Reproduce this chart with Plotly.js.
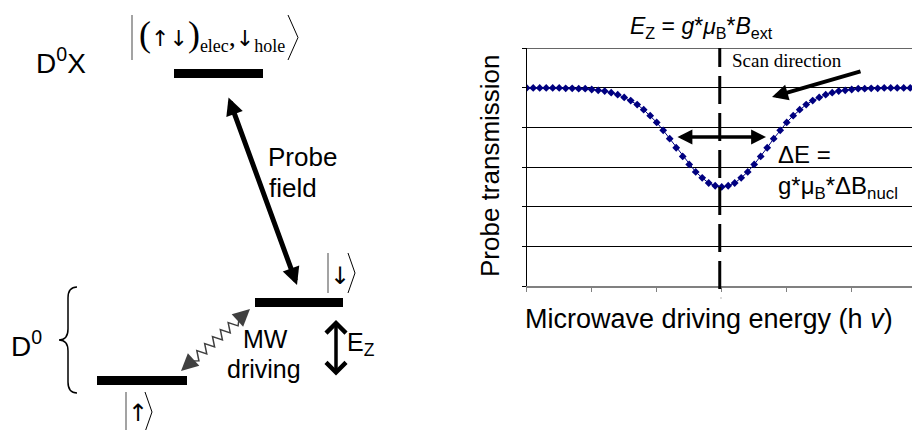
<!DOCTYPE html>
<html><head><meta charset="utf-8">
<script src="https://cdn.plot.ly/plotly-3.0.1.min.js"></script>
<style>html,body{margin:0;padding:0;background:#fff}</style>
</head><body><div id="chart" style="width:912px;height:430px"></div>
<script>
// ---- chart data ----
const energyX = [0.0,0.1,0.2,0.3,0.4,0.5,0.6,0.7,0.8,0.9,1.0,1.1,1.2,1.3,1.4,1.5,1.6,1.7,1.8,1.9,2.0,2.1,2.2,2.3,2.4,2.5,2.6,2.7,2.8,2.9,3.0,3.1,3.2,3.3,3.4,3.5,3.6,3.7,3.8,3.9,4.0,4.1,4.2,4.3,4.4,4.5,4.6,4.7,4.8,4.9,5.0,5.1,5.2,5.3,5.4,5.5,5.6,5.7,5.8,5.9,6.0];
const transmission = [5.00,5.00,5.00,5.00,5.00,5.00,4.99,4.99,4.98,4.98,4.96,4.94,4.92,4.88,4.83,4.76,4.68,4.58,4.45,4.30,4.13,3.93,3.72,3.49,3.27,3.07,2.88,2.73,2.60,2.53,2.50,2.53,2.60,2.73,2.88,3.07,3.27,3.49,3.72,3.93,4.13,4.30,4.45,4.58,4.68,4.76,4.83,4.88,4.92,4.94,4.96,4.98,4.98,4.99,4.99,5.00,5.00,5.00,5.00,5.00,5.00];
const xTicks = [0,1,2,3,4,5,6];
const yTicks = [0,1,2,3,4,5,6];
const resonanceX = 2.97;

const SANS = '"Liberation Sans", Arial, sans-serif';
const SERIF = '"Liberation Serif", "Times New Roman", serif';

// ---- helpers for the level diagram (pixel-like coords on hidden axes x2/y2) ----
function txt(x, baseline, text, fs, o) {
  o = o || {};
  return {xref:'x2', yref:'y2', x:x, y:baseline + 0.21*fs + (o.dy||0), yanchor:'bottom',
    xanchor:o.anchor||'left', text:text, showarrow:false, borderpad:0, borderwidth:0,
    textangle:o.angle||0,
    font:{family:o.family||SANS, size:fs, color:o.color||'#000'}};
}
function arrow(x0, y0, x1, y1, w, head, size, both, color) {
  return {xref:'x2', yref:'y2', axref:'x2', ayref:'y2', x:x1, y:y1, ax:x0, ay:y0, text:'',
    showarrow:true, arrowhead:head, startarrowhead:head, arrowsize:size, startarrowsize:size,
    arrowwidth:w, arrowcolor:color||'#000', arrowside: both ? 'end+start' : 'end',
    standoff:0, startstandoff:0};
}
function bar(x0, x1, y0, y1) {
  return {type:'rect', xref:'x2', yref:'y2', x0:x0, x1:x1, y0:y0, y1:y1, fillcolor:'#000', line:{width:0}};
}
function seg(x0, y0, x1, y1, w, color) {
  return {type:'line', xref:'x2', yref:'y2', x0:x0, y0:y0, x1:x1, y1:y1, line:{color:color||'#000', width:w}};
}
function ketBracket(x, yTop, yBot, w) {
  const ym = (yTop + yBot) / 2;
  return {type:'path', xref:'x2', yref:'y2', path:`M${x},${yTop} L${x+w},${ym} L${x},${yBot}`, line:{color:'#000', width:1}};
}
function zigzag(x0, y0, x1, y1, n, amp) {
  const dx = x1-x0, dy = y1-y0, L = Math.hypot(dx, dy);
  const px = -dy/L, py = dx/L;
  let p = `M${x0},${y0}`;
  for (let i = 1; i < n; i++) {
    const t = i/n, s = (i % 2 ? amp : -amp);
    p += ` L${(x0+dx*t+px*s).toFixed(2)},${(y0+dy*t+py*s).toFixed(2)}`;
  }
  return p + ` L${x1},${y1}`;
}
const A = (s, size) => `<span style="font-family:DejaVu Sans;font-size:${size}px">${s}</span>`;
const S = (s, size) => `<span style="font-size:${size}px">${s}</span>`;

const shapes = [
  // energy levels
  bar(174, 263, 69, 78),
  bar(255, 343, 298, 307),
  bar(97, 187, 376, 385),
  // brace
  {type:'path', xref:'x2', yref:'y2', line:{color:'#000', width:1.5},
   path:'M77,287 Q68,287 68,298 L68,329 Q68,340 59,340 Q68,340 68,351 L68,382 Q68,393 77,393'},
  // kets
  seg(132, 15, 132, 60, 1.2, '#666'), ketBracket(288, 15, 60, 10),
  seg(328, 253, 328, 293, 1.2, '#666'), ketBracket(348, 253, 293, 7),
  seg(126, 392, 126, 432, 1.2, '#666'), ketBracket(145, 392, 432, 7),
  // MW wavy line
  {type:'path', xref:'x2', yref:'y2', line:{color:'#404040', width:1.5},
   path: zigzag(192, 361, 239, 319, 12, 4.5)},
  // chart: top frame line, resonance dashed line, small mark under centre tick
  {type:'line', xref:'x domain', yref:'y', x0:0, x1:1, y0:6, y1:6, line:{color:'#000', width:1}},
  {type:'line', xref:'x', yref:'paper', x0:resonanceX, x1:resonanceX, y0:1-289/430, y1:1-48/430,
   line:{color:'#000', width:3, dash:'28px,9px'}},
  seg(720, 298, 722, 298, 1, '#bbb')
];

const annotations = [
  txt(36, 73, 'D<sup>0</sup>X', 28),
  txt(11, 356, 'D<sup>0</sup>', 28),
  txt(139, 50, S('(', 36) + A('↑↓', 22) + S(')', 36) + '<sub>' + S('elec', 18) + '</sub>,' + A('↓', 22) + '<sub>' + S('hole', 18) + '</sub>', 28, {family:SERIF}),
  txt(339.5, 285, A('↓', 24), 24, {anchor:'center'}),
  txt(137.5, 422, A('↑', 24), 24, {anchor:'center'}),
  txt(268, 167, 'Probe', 26),
  txt(269, 198, 'field', 26),
  txt(265, 348, 'MW', 25, {anchor:'center'}),
  txt(264, 378, 'driving', 25, {anchor:'center'}),
  txt(347, 355, 'E<sub>Z</sub>', 25),
  // arrows of the diagram
  arrow(228, 96, 297, 285, 5, 2, 0.7, true),
  arrow(336, 377, 336, 320, 3.5, 4, 1.1, true),
  arrow(239, 319, 250, 309, 2, 2, 1.7, false, '#404040'),
  arrow(192, 361, 181, 371, 2, 2, 1.7, false, '#404040'),
  // chart texts
  txt(701, 37, '<i>E</i><sub>Z</sub> = <i>g</i>*<i>μ</i><sub>B</sub>*<i>B</i><sub>ext</sub>', 23, {anchor:'center'}),
  txt(732, 67, 'Scan direction', 19, {family:SERIF}),
  txt(778, 163, 'ΔE =', 24),
  txt(778, 198, 'g*μ<sub>B</sub>*ΔB<sub>nucl</sub>', 24),
  txt(709, 328, 'Microwave driving energy (h <i>v</i>)', 27, {anchor:'center'}),
  {xref:'x2', yref:'y2', x:490, y:166, xanchor:'center', yanchor:'middle', textangle:-90, showarrow:false,
   text:'Probe transmission', font:{family:SANS, size:26, color:'#000'}},
  arrow(862, 71, 772, 97, 4, 2, 0.8, false),
  arrow(676, 137, 766, 137, 3.5, 2, 0.85, true)
];

const traces = [
  {x: energyX, y: transmission, type:'scatter', mode:'lines+markers', xaxis:'x', yaxis:'y',
   line:{color:'#000080', width:1}, marker:{symbol:'diamond', size:6, color:'#000080'},
   hoverinfo:'x+y', showlegend:false},
  {x:[], y:[], type:'scatter', xaxis:'x2', yaxis:'y2', showlegend:false, hoverinfo:'skip'}
];

const layout = {
  width:912, height:430, margin:{l:0, r:0, t:0, b:0},
  paper_bgcolor:'#fff', plot_bgcolor:'rgba(0,0,0,0)', showlegend:false,
  xaxis:{domain:[526.7/912, 1], range:[0, (912-526.7)/65], tickvals:xTicks, showticklabels:false,
    ticks:'outside', ticklen:4, tickcolor:'#808080', tickwidth:1, showgrid:false, zeroline:false,
    showline:true, linecolor:'#808080', linewidth:2, fixedrange:true, anchor:'y'},
  yaxis:{domain:[1-286/430, 1-48.3/430], range:[0, 6], tickvals:yTicks, showticklabels:false,
    ticks:'outside', ticklen:4, tickcolor:'#000', showgrid:true, gridcolor:'#000', gridwidth:1,
    zeroline:false, showline:true, linecolor:'#000', linewidth:1, fixedrange:true, anchor:'x'},
  xaxis2:{domain:[0,1], range:[0,912], visible:false, fixedrange:true, anchor:'y2'},
  yaxis2:{domain:[0,1], range:[430,0], visible:false, fixedrange:true, anchor:'x2'},
  shapes: shapes,
  annotations: annotations
};

Plotly.newPlot('chart', traces, layout, {staticPlot:true, displayModeBar:false});
</script>
</body></html>
